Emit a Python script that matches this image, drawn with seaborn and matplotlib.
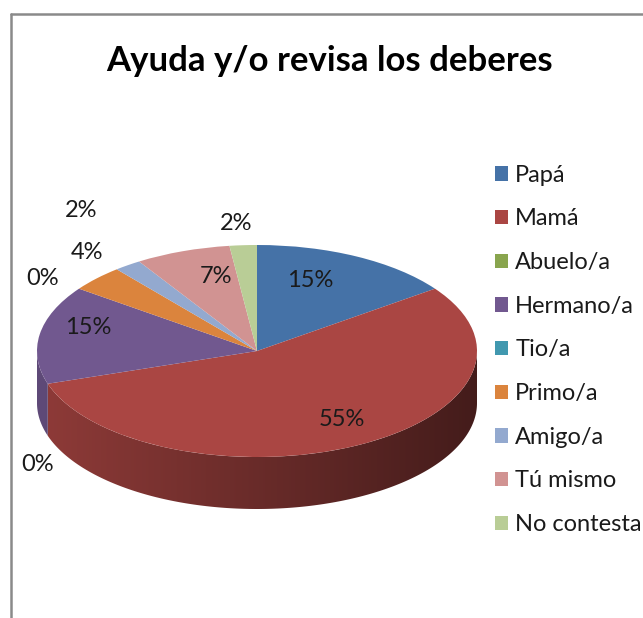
import numpy as np
import matplotlib
matplotlib.use("Agg")
import matplotlib.pyplot as plt
from matplotlib.lines import Line2D
from matplotlib.patches import Polygon
import seaborn as sns

# data
names = ["Papá", "Mamá", "Abuelo/a", "Hermano/a", "Tio/a",
         "Primo/a", "Amigo/a", "Tú mismo", "No contesta"]
values = [15, 55, 0, 15, 0, 4, 2, 7, 2]
hex_colors = ["#4572A7", "#AA4643", "#89A54E", "#71588F", "#4198AF",
              "#DB843D", "#93A9CF", "#D19392", "#B9CD96"]

# label layout: radius factor and angle nudge (deg) for each percentage
label_r = [0.71, 0.75, 1.46, 0.80, 1.19, 1.21, 1.55, 0.73, 1.21]
label_shift = [7, 4, 29, -7, 1, -7, -5, -5, 1]

sns.set_theme(style="white")
plt.rcParams["font.family"] = ["Lato", "DejaVu Sans"]
palette = sns.color_palette(hex_colors)

W, H = 643, 618
fig = plt.figure(figsize=(W / 100, H / 100), dpi=100)
ax = fig.add_axes([0, 0, 1, 1])

# ellipse geometry (pixels): centre, half axes, side depth
cx, cy, a, b, depth_px = 257, 351, 220, 106, 52
depth = depth_px / b

wedges, _ = ax.pie(values, colors=palette, startangle=90, counterclock=False,
                   radius=1, wedgeprops=dict(linewidth=0))
for w in wedges:
    w.set_zorder(3)

# side wall of the 3-D pie (only the front half is visible),
# shaded lighter on the left and darker on the right
gx = np.linspace(-1, 1, 500)
shade = 0.62 - 0.22 * gx
for w, col in zip(wedges, palette):
    for k in (-360, 0, 360):
        t1 = max(w.theta1 + k, -180)
        t2 = min(w.theta2 + k, 0)
        if t2 <= t1:
            continue
        tt = np.radians(np.linspace(t1, t2, 200))
        xs, ys = np.cos(tt), np.sin(tt)
        poly = np.vstack([np.column_stack([xs, ys]),
                          np.column_stack([xs[::-1], ys[::-1] - depth])])
        clip = Polygon(poly, closed=True, transform=ax.transData)
        rgb = np.array(col)[None, None, :] * shade[None, :, None]
        rgb = np.repeat(rgb, 2, axis=0)
        im = ax.imshow(rgb, extent=(-1, 1, -1 - depth, 0.05), aspect="auto",
                       origin="lower", zorder=2, interpolation="bilinear")
        im.set_clip_path(clip)

# percentage labels
for w, v, r, sh in zip(wedges, values, label_r, label_shift):
    mid = np.radians((w.theta1 + w.theta2) / 2 + sh)
    ax.text(r * np.cos(mid), r * np.sin(mid), f"{v}%", ha="center",
            va="center", fontsize=17, color="#1a1a1a", zorder=5)

ax.set_aspect("auto")
ax.set_xlim(-cx / a, (W - cx) / a)
ax.set_ylim((cy - H) / b, cy / b)
ax.axis("off")

fig.text(330 / W, 1 - 61 / H, "Ayuda y/o revisa los deberes", ha="center",
         va="center", fontsize=25, fontweight="bold", color="black")

leg = fig.legend(wedges, names, loc="upper left",
                 bbox_to_anchor=(483 / W, 1 - 153 / H), frameon=False,
                 fontsize=17, handlelength=0.57, handleheight=0.57,
                 handletextpad=0.3, labelspacing=0.96, borderpad=0)
for t in leg.get_texts():
    t.set_color("#1a1a1a")

# chart area border (partially cropped in the reference)
ytop = 1 - 14 / H
xl = 10.5 / W
fig.add_artist(Line2D([xl, xl], [0, ytop], color="#8a8a8a", lw=1.8))
fig.add_artist(Line2D([xl, 1], [ytop, ytop], color="#8a8a8a", lw=1.8))

fig.savefig("out.png", dpi=100)
